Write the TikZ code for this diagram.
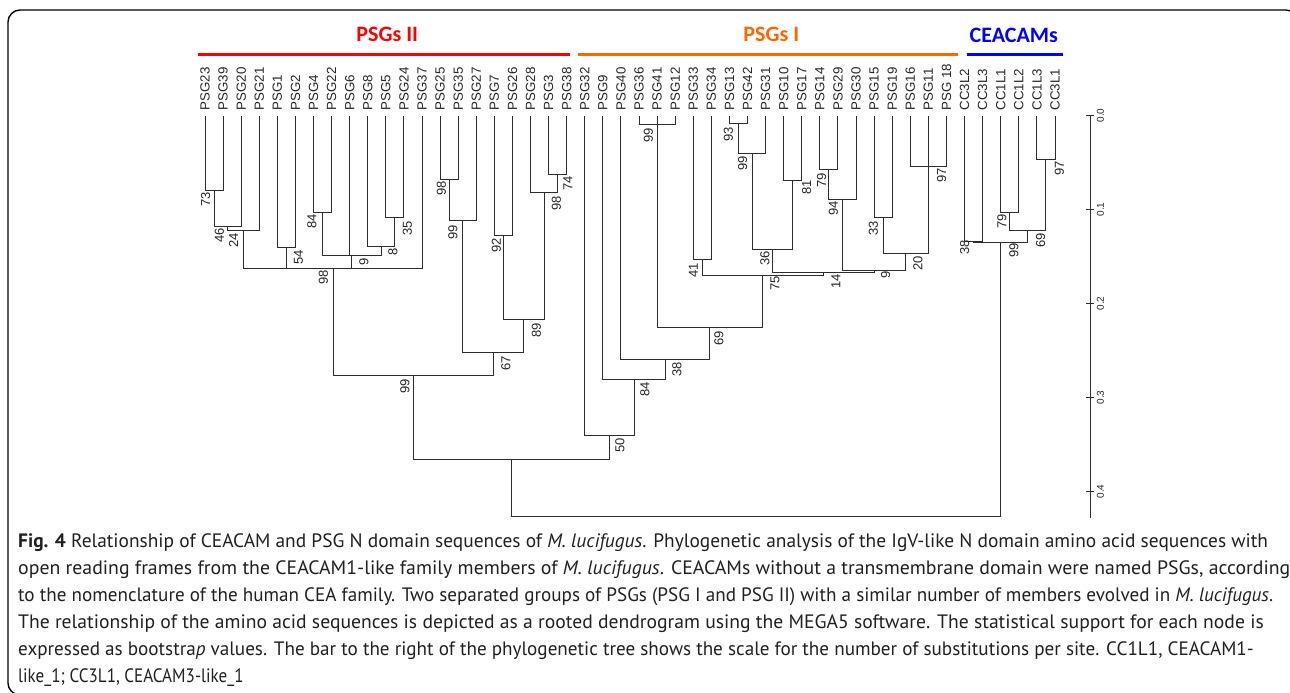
\documentclass[tikz,border=0pt]{standalone}
\usepackage{fontspec}
\setmainfont{PT Sans}
\newfontfamily\arialf{Liberation Sans}
\newfontfamily\calib{Carlito}
\definecolor{pRed}{RGB}{255,0,0}
\definecolor{pOrange}{RGB}{255,102,0}
\definecolor{pBlue}{RGB}{0,0,255}
\definecolor{treeC}{RGB}{45,45,45}
\definecolor{capC}{RGB}{35,31,32}
\newcommand\kid[2]{\draw[br] (#1) |- (#2);}
\begin{document}
\begin{tikzpicture}[x=1pt,y=-1pt,
  br/.style={draw=treeC,line width=1pt},
  leaf/.style={rotate=90,anchor=west,inner sep=0pt,font=\arialf\fontsize{13.3}{14}\selectfont,text=black!85},
  boot/.style={rotate=90,inner sep=0pt,font=\arialf\fontsize{13}{14}\selectfont,text=black!85},
  scalelab/.style={rotate=90,inner sep=0pt,font=\arialf\fontsize{10}{11}\selectfont,text=black!85},
  grp/.style={anchor=base,inner sep=0pt,font=\calib\bfseries\fontsize{22}{24}\selectfont},
  grpbar/.style={line width=3pt},
  capline/.style={anchor=base west,inner sep=0pt,text=capC,font=\fontsize{19.4}{27}\selectfont}]
\useasboundingbox (0,0) rectangle (1290,693);
\begin{scope}
\clip (0,0) rectangle (1290,693);
\draw[line width=1.4pt,rounded corners=12pt] (8,10) rectangle (1298,695);
\end{scope}
% group headers
\node[grp,text=pRed] (gII) at (387.2,41.7) {PSGs II};
\node[grp,text=pOrange] (gI) at (771.3,41.7) {PSGs I};
\node[grp,text=pBlue] (gC) at (1013.8,42.5) {CEACAMs};
\draw[grpbar,pRed] (198,54.5) -- (570,54.5);
\draw[grpbar,pOrange] (578,54.5) -- (958,54.5);
\draw[grpbar,pBlue] (967,54.5) -- (1063,54.5);
% leaves
\foreach \n [count=\i from 0] in {PSG23,PSG39,PSG20,PSG21,PSG1,PSG2,PSG4,PSG22,PSG6,PSG8,PSG5,PSG24,PSG37,PSG25,PSG35,PSG27,PSG7,PSG26,PSG28,PSG3,PSG38,PSG32,PSG9,PSG40,PSG36,PSG41,PSG12,PSG33,PSG34,PSG13,PSG42,PSG31,PSG10,PSG17,PSG14,PSG29,PSG30,PSG15,PSG19,PSG16,PSG11,PSG 18,CC3L2,CC3L3,CC1L1,CC1L2,CC1L3,CC3L1}{
  \coordinate (L\i) at ({205+18.085*\i},116);
  \node[leaf] (T\i) at ({205+18.085*\i},110.5) {\n};
}
% internal nodes
\coordinate (na) at (214.05,190.7);
\coordinate (nb) at (227.6,226.7);
\coordinate (nc) at (243.45,230);
\coordinate (nd) at (286.35,247.7);
\coordinate (ne) at (322.55,212.3);
\coordinate (nf) at (394.9,217.7);
\coordinate (ng) at (381.35,246);
\coordinate (nh) at (351.95,255.7);
\coordinate (ni) at (333.3,268.3);
\coordinate (nj) at (449.15,179.3);
\coordinate (nk) at (462.7,220.7);
\coordinate (nl) at (503.4,235.7);
\coordinate (nm) at (557.65,174.3);
\coordinate (nn) at (544.1,192.7);
\coordinate (no) at (523.75,319.3);
\coordinate (np) at (493.2,352.7);
\coordinate (nq) at (413.25,375);
\coordinate (nr) at (657.1,124.3);
\coordinate (ns) at (738.55,123);
\coordinate (nt) at (752.1,153.3);
\coordinate (nu) at (792.75,180);
\coordinate (nv) at (772.4,249);
\coordinate (nw) at (828.95,169.3);
\coordinate (nx) at (842.5,199);
\coordinate (ny) at (883.2,217.7);
\coordinate (nz) at (928.4,166.7);
\coordinate (naa) at (905.8,253.7);
\coordinate (nab) at (874.15,270.7);
\coordinate (nac) at (823.3,272);
\coordinate (nad) at (702.35,259.3);
\coordinate (nae) at (762.8,275);
\coordinate (naf) at (709.95,327.7);
\coordinate (nag) at (665.5,359.3);
\coordinate (nah) at (634.2,379.3);
\coordinate (nai) at (609.5,435);
\coordinate (naj) at (511.4,459);
\coordinate (nak) at (1045.95,159);
\coordinate (nal) at (1009.75,212.7);
\coordinate (nam) at (1027.85,230.3);
\coordinate (nan) at (973.65,241);
\coordinate (nao) at (1000.75,242);
\coordinate (root) at (756,516);
% branches
\kid{L0}{na}\kid{L1}{na}
\kid{na}{nb}\kid{L2}{nb}
\kid{nb}{nc}\kid{L3}{nc}
\kid{L4}{nd}\kid{L5}{nd}
\kid{L6}{ne}\kid{L7}{ne}
\kid{L10}{nf}\kid{L11}{nf}
\kid{L9}{ng}\kid{nf}{ng}
\kid{ne}{nh}\kid{L8}{nh}\kid{ng}{nh}
\kid{nc}{ni}\kid{nd}{ni}\kid{nh}{ni}\kid{L12}{ni}
\kid{L13}{nj}\kid{L14}{nj}
\kid{nj}{nk}\kid{L15}{nk}
\kid{L16}{nl}\kid{L17}{nl}
\kid{L19}{nm}\kid{L20}{nm}
\kid{L18}{nn}\kid{nm}{nn}
\kid{nl}{no}\kid{nn}{no}
\kid{nk}{np}\kid{no}{np}
\kid{ni}{nq}\kid{np}{nq}
\kid{L24}{nr}\kid{L25}{nr}\kid{L26}{nr}
\kid{L29}{ns}\kid{L30}{ns}
\kid{ns}{nt}\kid{L31}{nt}
\kid{L32}{nu}\kid{L33}{nu}
\kid{nt}{nv}\kid{nu}{nv}
\kid{L34}{nw}\kid{L35}{nw}
\kid{nw}{nx}\kid{L36}{nx}
\kid{L37}{ny}\kid{L38}{ny}
\kid{L39}{nz}\kid{L40}{nz}\kid{L41}{nz}
\kid{ny}{naa}\kid{nz}{naa}
\kid{nx}{nab}\kid{naa}{nab}
\kid{nv}{nac}\kid{nab}{nac}
\kid{L27}{nad}\kid{L28}{nad}
\kid{nad}{nae}\kid{nac}{nae}
\kid{nr}{naf}\kid{nae}{naf}
\kid{L23}{nag}\kid{naf}{nag}
\kid{L22}{nah}\kid{nag}{nah}
\kid{L21}{nai}\kid{nah}{nai}
\kid{nq}{naj}\kid{nai}{naj}
\kid{L46}{nak}\kid{L47}{nak}
\kid{L44}{nal}\kid{L45}{nal}
\kid{nal}{nam}\kid{nak}{nam}
\kid{L42}{nan}\kid{L43}{nan}
\kid{nan}{nao}\kid{nam}{nao}
\kid{naj}{root}\kid{nao}{root}
% bootstrap values
\node[boot] (b01) at (205.7,199) {73};
\node[boot] (b02) at (219.3,235) {46};
\node[boot] (b03) at (233.5,240) {24};
\node[boot] (b04) at (298.5,257) {54};
\node[boot] (b05) at (312,221.5) {84};
\node[boot] (b06) at (407.5,228.5) {35};
\node[boot] (b07) at (393,252) {8};
\node[boot] (b08) at (364,262) {9};
\node[boot] (b09) at (323.5,277) {98};
\node[boot] (b10) at (441.5,188.5) {98};
\node[boot] (b11) at (453,232) {99};
\node[boot] (b12) at (496.5,245.5) {92};
\node[boot] (b13) at (568,183.5) {74};
\node[boot] (b14) at (556.5,203.5) {98};
\node[boot] (b15) at (536.5,330) {89};
\node[boot] (b16) at (506,363) {67};
\node[boot] (b17) at (405,386) {99};
\node[boot] (b18) at (648.3,135) {99};
\node[boot] (b19) at (728.3,134) {93};
\node[boot] (b20) at (742.7,163.5) {99};
\node[boot] (b21) at (806.7,187.5) {81};
\node[boot] (b22) at (765,258.5) {36};
\node[boot] (b23) at (821.7,180) {79};
\node[boot] (b24) at (833.3,208.5) {94};
\node[boot] (b25) at (873.3,228.5) {33};
\node[boot] (b26) at (941.7,175) {97};
\node[boot] (b27) at (918,263.5) {20};
\node[boot] (b28) at (885.7,274.5) {9};
\node[boot] (b29) at (836,281) {14};
\node[boot] (b30) at (693.3,270.7) {41};
\node[boot] (b31) at (775,283.5) {75};
\node[boot] (b32) at (719,338) {69};
\node[boot] (b33) at (677,369) {38};
\node[boot] (b34) at (645,389) {84};
\node[boot] (b35) at (620,445) {50};
\node[boot] (b36) at (1059.3,168.5) {97};
\node[boot] (b37) at (1002,221.7) {79};
\node[boot] (b38) at (1040.7,240) {69};
\node[boot] (b39) at (964.7,247.3) {38};
\node[boot] (b40) at (1014,250.7) {99};
% scale bar
\coordinate (axT) at (1090,115.5);
\coordinate (axB) at (1090,518);
\draw[br] (axT) -- (axB);
\foreach \v [count=\k from 0] in {0.0,0.1,0.2,0.3,0.4}{
  \draw[br] (1086,{115.5+94*\k}) -- (1094,{115.5+94*\k});
  \node[scalelab] (s\k) at (1100.5,{115.5+94*\k}) {\v};
}
% caption
\node[capline] (c1) at (18,547) {\textbf{Fig. 4} Relationship of CEACAM and PSG N domain sequences of \textit{M. lucifugus}. Phylogenetic analysis of the IgV-like N domain amino acid sequences with};
\node[capline,xscale=1.02] (c2) at (18,574) {open reading frames from the CEACAM1-like family members of \textit{M. lucifugus}. CEACAMs without a transmembrane domain were named PSGs, according};
\node[capline,xscale=0.986] (c3) at (18,601) {to the nomenclature of the human CEA family. Two separated groups of PSGs (PSG I and PSG II) with a similar number of members evolved in \textit{M. lucifugus}.};
\node[capline,xscale=1.012] (c4) at (18,628) {The relationship of the amino acid sequences is depicted as a rooted dendrogram using the MEGA5 software. The statistical support for each node is};
\node[capline,xscale=0.987] (c5) at (18,655) {expressed as bootstra\textit{p} values. The bar to the right of the phylogenetic tree shows the scale for the number of substitutions per site. CC1L1, CEACAM1-};
\node[capline,xscale=0.88] (c6) at (18,682) {like\_1; CC3L1, CEACAM3-like\_1};
\end{tikzpicture}
\end{document}
